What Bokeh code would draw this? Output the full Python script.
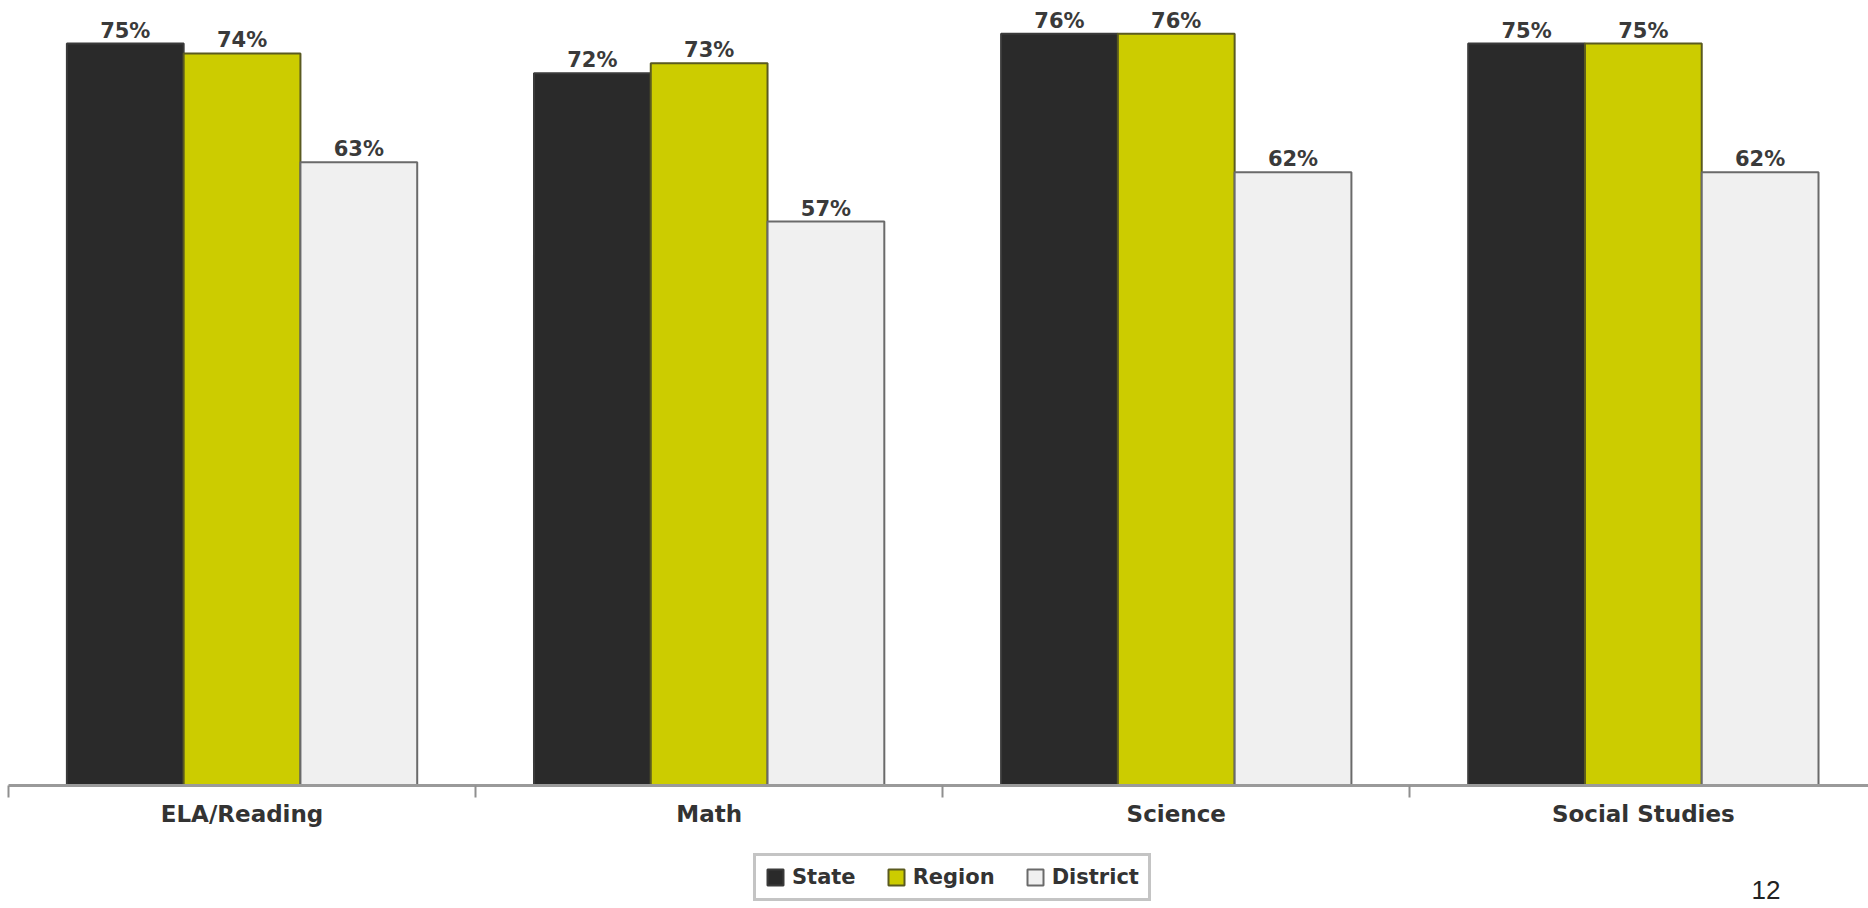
from bokeh.plotting import figure
from bokeh.layouts import column
from bokeh.models import (ColumnDataSource, Range1d, FixedTicker, Legend,
                          LegendItem, Label)
from bokeh.transform import dodge
from bokeh.core.properties import value
from bokeh.embed import file_html
from bokeh.resources import INLINE

# ---- data ----
categories = ["ELA/Reading", "Math", "Science", "Social Studies"]
series = ["State", "Region", "District"]
state = [75, 72, 76, 75]
region = [74, 73, 76, 75]
district = [63, 57, 62, 62]
page_number = "12"

colors = ["#2a2a2a", "#cccc00", "#f0f0f0"]
outlines = ["#3a3a3a", "#5a5a20", "#6a6a6a"]

centers = [i + 0.5 for i in range(len(categories))]
src = ColumnDataSource(dict(
    x=centers,
    State=state, Region=region, District=district,
    State_lbl=[f"{v}%" for v in state],
    Region_lbl=[f"{v}%" for v in region],
    District_lbl=[f"{v}%" for v in district],
))

W = 1868
H1 = 840
H2 = 68
group_px = 467.1
frame_h = 777
px_per_unit = 9.893

p = figure(width=W, height=H1, output_backend="svg", toolbar_location=None,
           x_range=Range1d(0, (W - 8) / group_px), y_range=Range1d(0, frame_h / px_per_unit),
           min_border_left=8, min_border_right=0, min_border_top=8,
           min_border_bottom=H1 - 8 - frame_h, y_axis_location=None)
p.outline_line_color = None
p.grid.visible = False
p.background_fill_color = "white"
p.border_fill_color = "white"

bw = 0.25
offsets = [-0.25, 0.0, 0.25]
for s, c, oc, off in zip(series, colors, outlines, offsets):
    p.vbar(x=dodge("x", off, range=p.x_range), top=s, width=bw, bottom=0,
           source=src, fill_color=c, line_color=oc, line_width=2)
    p.text(x=dodge("x", off, range=p.x_range), y=s, text=f"{s}_lbl", source=src,
           text_align="center", text_baseline="bottom", y_offset=-1,
           text_font=value("DejaVu Sans"), text_font_style="bold",
           text_font_size="21px", text_color="#3a3a3a")

ax = p.xaxis[0]
ax.ticker = FixedTicker(ticks=centers, minor_ticks=list(range(len(categories) + 1)))
ax.major_label_overrides = {c: lab for c, lab in zip(centers, categories)}
ax.major_tick_line_color = None
ax.major_tick_out = 0
ax.major_tick_in = 0
ax.minor_tick_line_color = "#8f8f8f"
ax.minor_tick_line_width = 2
ax.minor_tick_out = 12
ax.minor_tick_in = 0
ax.axis_line_color = "#9a9a9a"
ax.axis_line_width = 3
ax.major_label_standoff = 3
ax.major_label_text_font = "DejaVu Sans"
ax.major_label_text_font_style = "bold"
ax.major_label_text_font_size = "23px"
ax.major_label_text_color = "#333333"

# ---- legend / footer strip ----
p2 = figure(width=W, height=H2, output_backend="svg", toolbar_location=None,
            x_range=Range1d(0, (W - 8) / group_px), y_range=Range1d(0, 1),
            x_axis_location=None, y_axis_location=None,
            min_border=0, min_border_left=0, min_border_right=0,
            min_border_top=0, min_border_bottom=0)
p2.outline_line_color = None
p2.grid.visible = False
p2.background_fill_color = "white"
p2.border_fill_color = "white"

# same bar styles, hidden here: only their legend swatches are drawn
swatches = []
for s, c, oc in zip(series, colors, outlines):
    r = p2.vbar(x="x", top=s, width=bw, bottom=0, source=src,
                fill_color=c, line_color=oc, line_width=2, visible=False)
    swatches.append(r)

legend = Legend(items=[LegendItem(label=s, renderers=[r]) for s, r in zip(series, swatches)],
                orientation="horizontal", location=(745, 7),
                glyph_width=20, glyph_height=20, label_standoff=7, spacing=30,
                padding=9, margin=0, click_policy="none",
                label_text_font="DejaVu Sans", label_text_font_style="bold",
                label_text_font_size="21px", label_text_color="#333333",
                border_line_color="#8a8a8a", border_line_width=3,
                background_fill_color="white", background_fill_alpha=1.0)
p2.add_layout(legend, "center")

num = Label(x=1743, y=10, x_units="screen", y_units="screen", text=page_number,
            text_font="Liberation Sans", text_font_size="26px", text_color="#222222",
            text_baseline="bottom")
p2.add_layout(num)

layout = column(p, p2, spacing=0)
open("out.html", "w").write(file_html(layout, INLINE))
